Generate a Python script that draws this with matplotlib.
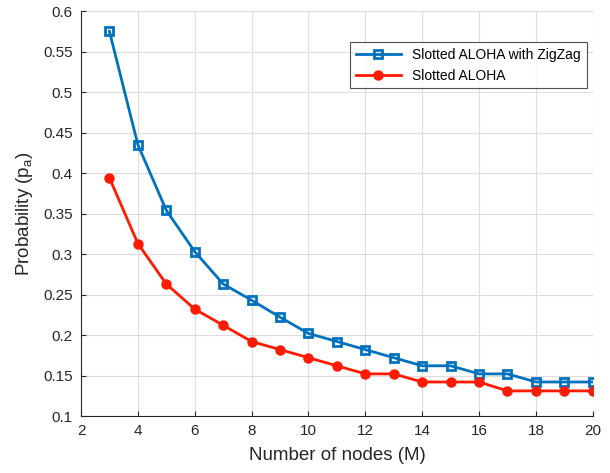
import numpy as np
import matplotlib.pyplot as plt

plt.rcParams['font.family'] = ['Liberation Sans', 'DejaVu Sans']

nodes = list(range(3, 21))
p_zigzag = [0.575, 0.435, 0.354, 0.303, 0.263, 0.243, 0.222, 0.202, 0.192,
            0.182, 0.172, 0.162, 0.162, 0.152, 0.152, 0.142, 0.142, 0.142]
p_aloha = [0.394, 0.313, 0.263, 0.232, 0.212, 0.192, 0.182, 0.172, 0.162,
           0.152, 0.152, 0.142, 0.142, 0.142, 0.131, 0.131, 0.131, 0.131]

fig = plt.figure(figsize=(6.1, 4.73), dpi=100)
ax = fig.add_axes([0.1328, 0.1205, 0.839, 0.856])

ax.plot(nodes, p_zigzag, '-s', color='#0072BD', lw=2, ms=6, mfc='none',
        mew=2, label='Slotted ALOHA with ZigZag')
ax.plot(nodes, p_aloha, '-o', color='#FF1A00', lw=2, ms=6.5,
        label='Slotted ALOHA')

ax.set_xlim(2, 20)
ax.set_ylim(0.1, 0.6)
ax.set_xticks(range(2, 21, 2))
ax.set_yticks(np.arange(0.1, 0.61, 0.05))
ax.set_yticklabels(['0.1', '0.15', '0.2', '0.25', '0.3', '0.35', '0.4',
                    '0.45', '0.5', '0.55', '0.6'])
ax.grid(True, color='#dddddd', lw=0.8)
ax.set_axisbelow(True)
ax.tick_params(direction='in', labelsize=11, colors='#262626', pad=6,
               top=False, right=False)
for s in ax.spines.values():
    s.set_color('#262626')
    s.set_linewidth(0.8)
ax.spines['top'].set_visible(False)
ax.spines['right'].set_visible(False)

ax.set_xlabel('Number of nodes (M)', fontsize=13.5, color='#262626', labelpad=6)
ax.set_ylabel('Probability (p$_\\mathregular{a}$)', fontsize=13.5, color='#262626',
              labelpad=6)

leg = ax.legend(loc='upper right', bbox_to_anchor=(0.988, 0.923), fontsize=10,
                fancybox=False, edgecolor='#262626', handlelength=3.3,
                borderaxespad=0)
leg.get_frame().set_linewidth(0.8)

fig.savefig('out.png', dpi=100)
